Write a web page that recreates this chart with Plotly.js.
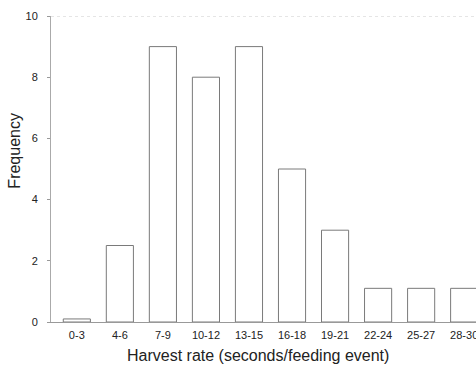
<!DOCTYPE html>
<html>
<head>
<meta charset="utf-8">
<script src="https://cdn.plot.ly/plotly-3.0.1.min.js"></script>
<style>
html,body{margin:0;padding:0;overflow:hidden;background:#fff;}
#chart{width:500px;height:368px;}
</style>
</head>
<body>
<div id="chart"></div>
<script>
var categories = ["0-3","4-6","7-9","10-12","13-15","16-18","19-21","22-24","25-27","28-30"];
var frequency = [0.1, 2.5, 9, 8, 9, 5, 3, 1.1, 1.1, 1.1];
var yTicks = [0, 2, 4, 6, 8, 10];

var trace = {
  type: "bar",
  x: categories,
  y: frequency,
  marker: {color: "#ffffff", line: {color: "#7a7a7a", width: 1}},
  width: 0.63,
  hoverinfo: "skip"
};

var layout = {
  width: 500,
  height: 368,
  margin: {l: 51, r: 10, t: 16, b: 46},
  paper_bgcolor: "#ffffff",
  plot_bgcolor: "#ffffff",
  showlegend: false,
  font: {family: "Liberation Sans, Arial, sans-serif", color: "#222222"},
  xaxis: {
    type: "category",
    range: [-0.6, 9.6],
    showgrid: false,
    zeroline: false,
    showline: true,
    linecolor: "#999999",
    linewidth: 1,
    ticks: "",
    tickfont: {size: 11, color: "#222222"},
    ticklabelstandoff: 3
  },
  yaxis: {
    range: [0, 10],
    tickvals: yTicks,
    showgrid: false,
    zeroline: false,
    showline: true,
    linecolor: "#aaaaaa",
    linewidth: 1,
    ticks: "outside",
    ticklen: 3,
    tickcolor: "#999999",
    tickfont: {size: 11, color: "#222222"},
    ticklabelstandoff: 7
  },
  shapes: [
    {type: "line", xref: "paper", yref: "y", x0: 0, x1: 1, y0: 10, y1: 10,
     line: {color: "#cccccc", width: 1, dash: "dot"}}
  ],
  annotations: [
    {text: "Frequency", xref: "paper", yref: "y", x: 0, y: 5.6, xanchor: "center", yanchor: "middle",
     xshift: -36, textangle: -90, showarrow: false, font: {size: 16, color: "#222222"}},
    {text: "Harvest rate (seconds/feeding event)", xref: "x", yref: "paper", x: 4.2, y: 0,
     xanchor: "center", yanchor: "middle", yshift: -33, showarrow: false,
     font: {size: 16, color: "#222222"}}
  ]
};

Plotly.newPlot("chart", [trace], layout, {displayModeBar: false, staticPlot: true});
</script>
</body>
</html>
